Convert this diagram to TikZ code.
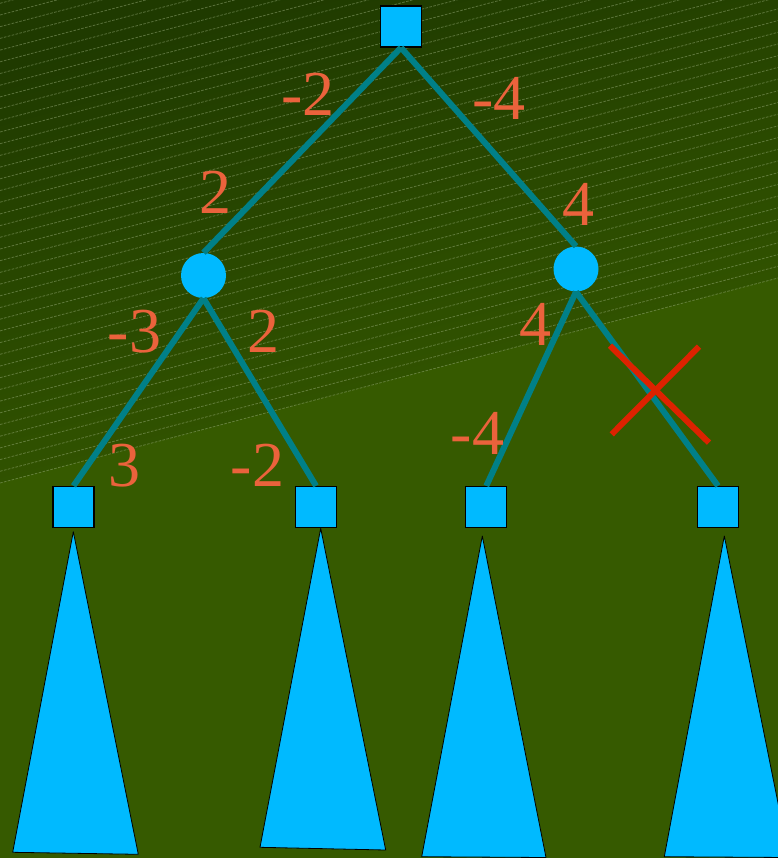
\documentclass[tikz,border=0pt]{standalone}
\usepackage{fontspec}
\setmainfont{Liberation Serif}
\newfontfamily\valuefont{Liberation Serif}
\usetikzlibrary{positioning}

\definecolor{bgtop}{RGB}{31,58,0}
\definecolor{bgbot}{RGB}{54,90,0}
\definecolor{hatchcol}{RGB}{160,180,130}
\definecolor{branchcol}{RGB}{0,128,136}
\definecolor{nodeblue}{RGB}{0,186,255}
\definecolor{weightcol}{RGB}{235,98,60}
\definecolor{cutred}{RGB}{221,34,0}

\begin{document}
\begin{tikzpicture}[x=0.75pt,y=-0.75pt,
  maxnode/.style={draw=black,line width=0.9pt,fill=nodeblue,minimum size=30.75pt,inner sep=0pt},
  chance/.style={circle,fill=nodeblue,minimum size=33.75pt,inner sep=0pt},
  treeline/.style={branchcol,line width=4.5pt},
  weight/.style={text=weightcol,font=\valuefont\fontsize{48}{48}\selectfont,inner sep=0pt,anchor=base},
  subtree/.style={draw=black,line width=0.6pt,fill=nodeblue,line join=round},
  cut/.style={cutred,line width=4.5pt}]
  \useasboundingbox (0,0) rectangle (778,858);
  \clip (0,0) rectangle (778,858);

  % background with hatched band
  \fill[bgbot] (0,0) rectangle (778,858);
  \shade[top color=bgtop,bottom color=bgbot,shading angle=15]
    (0,0) -- (778,0) -- (778,278) -- (0,483) -- cycle;
  \foreach \k in {0,...,59} {
    \draw[hatchcol,opacity=0.45,line width=0.6pt,dash pattern=on 2pt off 1pt]
      (0,483-\k*11.7) -- (778,278-\k*11.7);
  }

  % game tree
  \node[maxnode] (root) at (401,26.5) {};
  \node[chance] (cl) at (203.5,275.5) {};
  \node[chance] (cr) at (576,269) {};
  \node[maxnode] (l1) at (73.5,507) {};
  \node[maxnode] (l2) at (316,507) {};
  \node[maxnode] (l3) at (486.3,507) {};
  \node[maxnode] (l4) at (718,507) {};

  \draw[treeline] (root.south) -- (cl.north);
  \draw[treeline] (root.south) -- (cr.north);
  \draw[treeline] (cl.south) -- (l1.north);
  \draw[treeline] (cl.south) -- (l2.north);
  \draw[treeline] (cr.south) -- (l3.north);
  \draw[treeline] (cr.south) -- (l4.north);

  % subtrees below the leaves
  \foreach \ax/\ay/\bx/\by/\cx/\cy in {73.3/531.7/12.7/852.3/138.3/854.3,
      320.7/528.3/260/847.3/385.7/850,
      482.3/536/421.7/856.7/546/857.5,
      724.3/536/664.3/856.7/789/857.5} {
    \draw[subtree] (\ax,\ay) -- (\bx,\by) -- (\cx,\cy) -- cycle;
  }

  % values on the branches
  \node[weight] (wa) at (308,115) {-2};
  \node[weight] (wb) at (499,119) {-4};
  \node[weight] (wc) at (215,213) {2};
  \node[weight] (wd) at (578,225) {4};
  \node[weight] (we) at (134.5,352) {-3};
  \node[weight] (wf) at (263.5,352) {2};
  \node[weight] (wg) at (535.5,345) {4};
  \node[weight] (wh) at (477.5,454) {-4};
  \node[weight] (wi) at (124.5,486) {3};
  \node[weight] (wj) at (257.5,486) {-2};

  % pruned branch
  \draw[cut] (610,345.7) -- (709,442.7);
  \draw[cut] (611.7,434.3) -- (699,346.7);
\end{tikzpicture}
\end{document}
